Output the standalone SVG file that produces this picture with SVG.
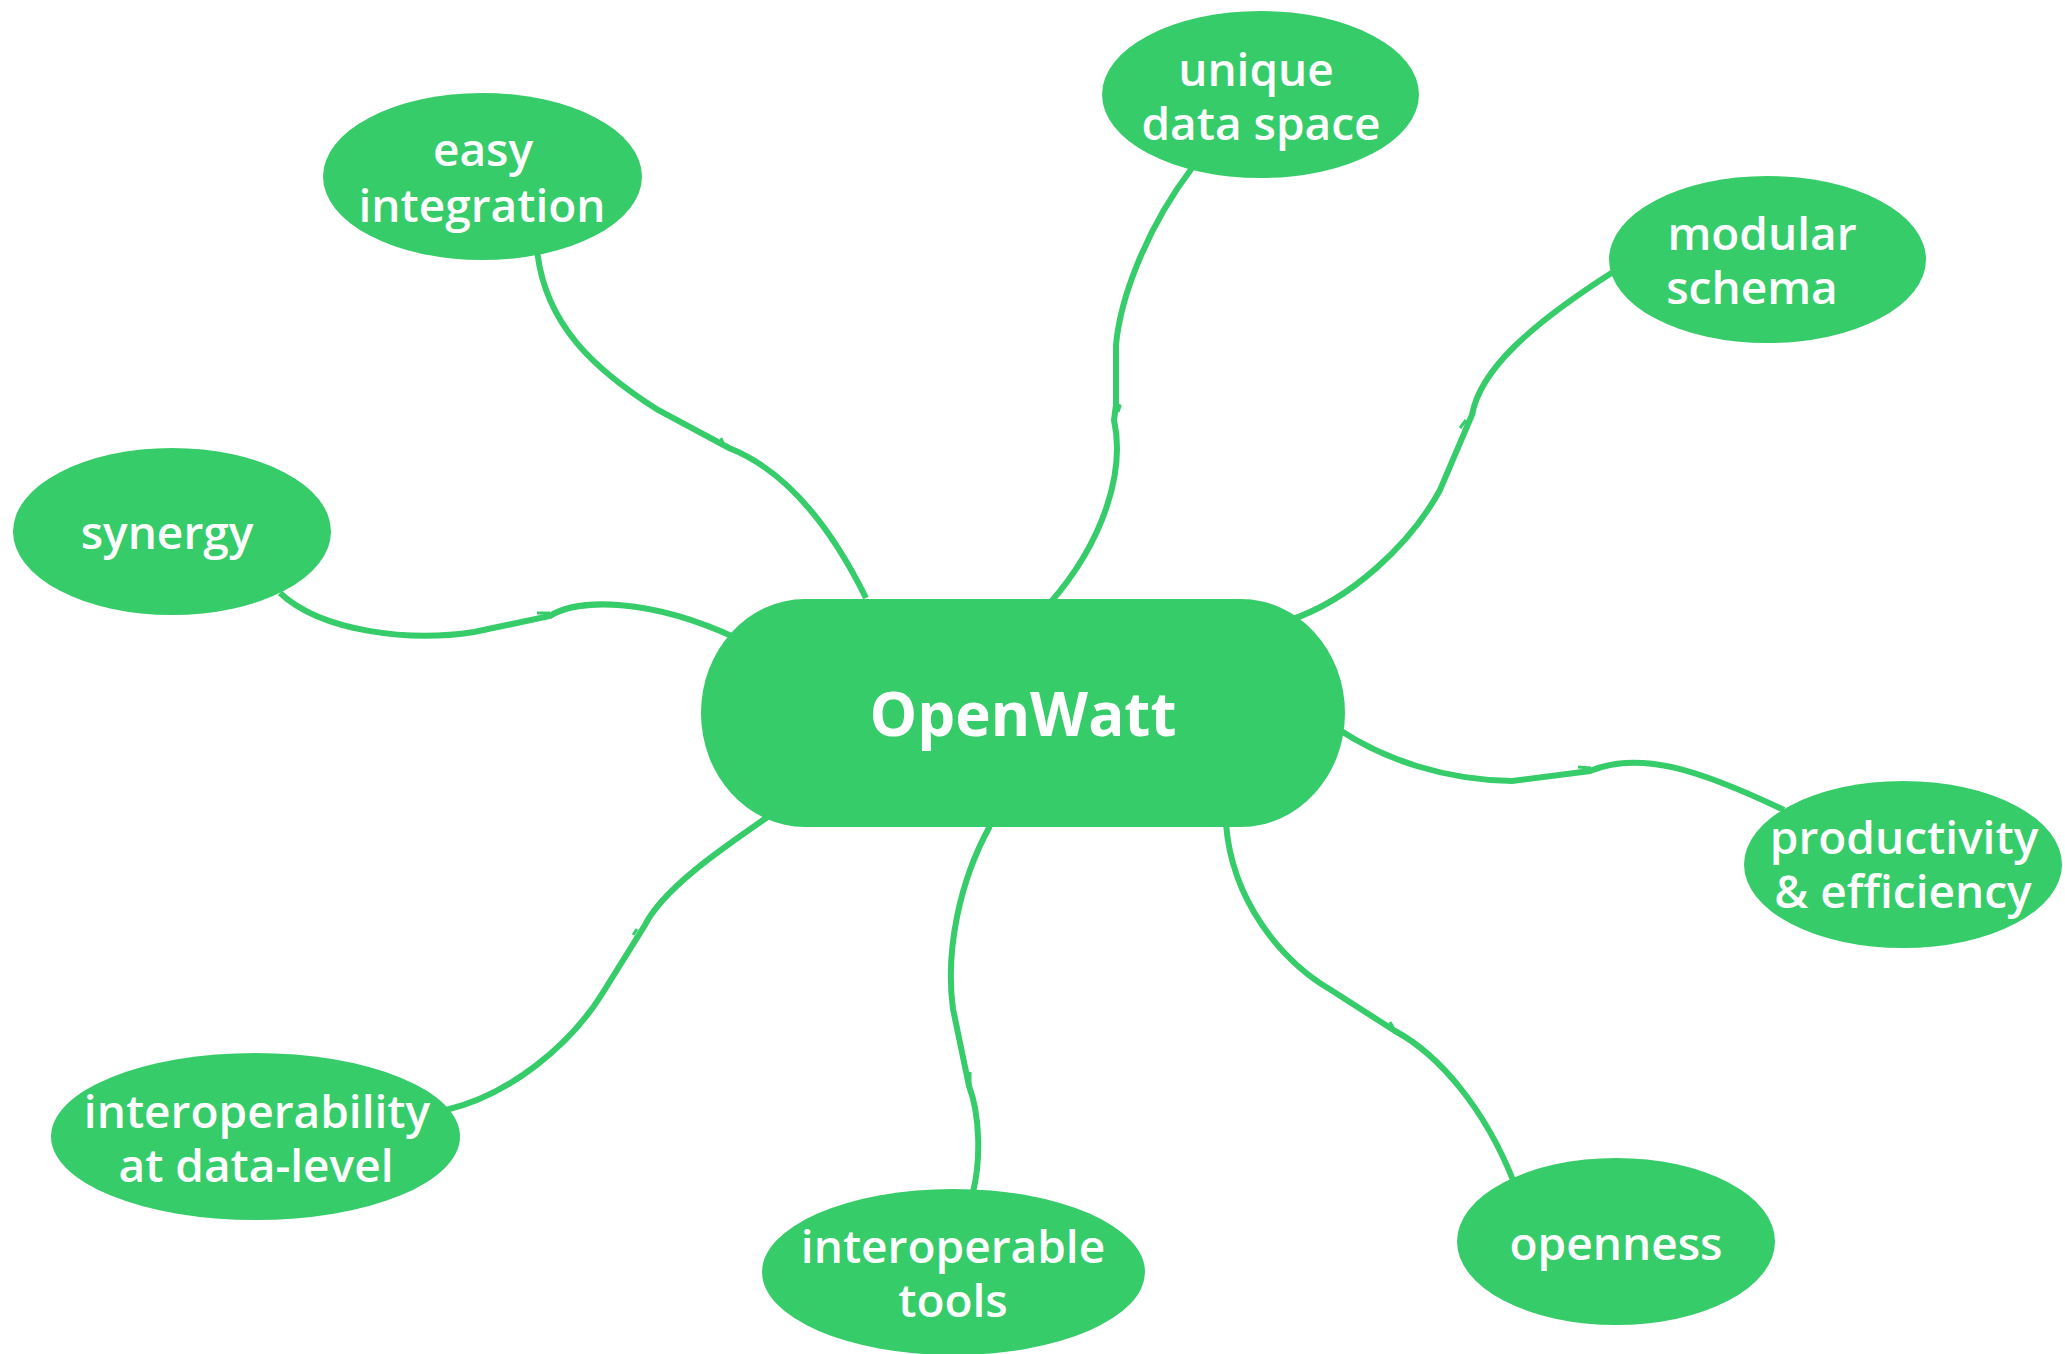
<svg xmlns="http://www.w3.org/2000/svg" width="2065" height="1354" viewBox="0 0 2065 1354">
<style>
.bg{fill:#ffffff}
.node{fill:#37cc6a;stroke:none}
.edge{fill:none;stroke:#37cc6a;stroke-width:6;stroke-linejoin:miter;stroke-linecap:butt}
.tick{fill:none;stroke:#37cc6a;stroke-width:3;stroke-linecap:butt}
.lbl{fill:#ffffff;font-family:"Open Sans","DejaVu Sans","Liberation Sans",sans-serif;font-size:46px;font-weight:600;text-anchor:middle}
.main{fill:#ffffff;font-family:"Open Sans","DejaVu Sans","Liberation Sans",sans-serif;font-size:60px;font-weight:700;text-anchor:middle}
</style>
<rect class="bg" x="0" y="0" width="2065" height="1354"/>
<g id="connectors">
<path class="edge" d="M 537 250 C 545 325, 595 370, 658 410 L 729 448 C 785 470, 830 525, 866 598"/>
<path class="tick" d="M 721 438 L 724 446"/>
<path class="edge" d="M 280 593 C 322 632, 410 642, 474 632 L 550 616 C 578 598, 650 598, 736 638"/>
<path class="tick" d="M 537 613 L 550 613"/>
<path class="edge" d="M 1192 168 C 1145 230, 1120 300, 1116 345 L 1116 405 L 1114 420 C 1125 470, 1105 540, 1050 603"/>
<path class="tick" d="M 1117 404 L 1120 406 L 1118 412"/>
<path class="edge" d="M 1613 272 C 1530 325, 1480 370, 1472 415 L 1440 490 C 1410 545, 1350 600, 1290 620"/>
<path class="tick" d="M 1466 420 L 1460 428"/>
<path class="edge" d="M 1338 729 C 1385 760, 1445 780, 1512 781 L 1590 771 C 1640 750, 1700 770, 1784 810"/>
<path class="tick" d="M 1578 767 L 1591 768"/>
<path class="edge" d="M 1226 824 C 1232 900, 1280 960, 1331 990 L 1395 1031 C 1440 1055, 1485 1110, 1513 1180"/>
<path class="tick" d="M 1390 1022 L 1394 1029"/>
<path class="edge" d="M 990 826 C 960 880, 945 950, 953 1009 L 969 1086 C 980 1115, 981 1160, 973 1192"/>
<path class="tick" d="M 970 1072 L 970 1086"/>
<path class="edge" d="M 769 816 C 735 840, 665 885, 645 925 L 602 994 C 570 1045, 510 1095, 446 1110"/>
<path class="tick" d="M 633 935 L 637 929"/>
</g>
<g id="openwatt">
<rect class="node" x="701" y="599" width="644" height="228" rx="104" ry="114"/>
<text class="main" x="1023" y="736">OpenWatt</text>
</g>
<g id="easy-integration">
<ellipse class="node" cx="482.5" cy="176.5" rx="159.5" ry="83.5"/>
<text class="lbl" x="483" y="166">easy</text>
<text class="lbl" x="482" y="222">integration</text>
</g>
<g id="synergy">
<ellipse class="node" cx="172" cy="531.5" rx="159" ry="83.5"/>
<text class="lbl" x="167" y="549">synergy</text>
</g>
<g id="unique-data-space">
<ellipse class="node" cx="1260.5" cy="94.5" rx="158.5" ry="83.5"/>
<text class="lbl" x="1256" y="86">unique</text>
<text class="lbl" x="1261" y="140">data space</text>
</g>
<g id="modular-schema">
<ellipse class="node" cx="1767.5" cy="259.5" rx="158.5" ry="83.5"/>
<text class="lbl" x="1762" y="250">modular</text>
<text class="lbl" x="1752" y="304">schema</text>
</g>
<g id="productivity-efficiency">
<ellipse class="node" cx="1903" cy="864.5" rx="159" ry="83.5"/>
<text class="lbl" x="1904" y="854">productivity</text>
<text class="lbl" x="1903" y="908">&amp; efficiency</text>
</g>
<g id="openness">
<ellipse class="node" cx="1616" cy="1241.5" rx="159" ry="83.5"/>
<text class="lbl" x="1616" y="1260">openness</text>
</g>
<g id="interoperable-tools">
<ellipse class="node" cx="953.5" cy="1272" rx="191.5" ry="83"/>
<text class="lbl" x="953" y="1263">interoperable</text>
<text class="lbl" x="953" y="1317">tools</text>
</g>
<g id="interoperability-data-level">
<ellipse class="node" cx="255.5" cy="1136.5" rx="204.5" ry="83.5"/>
<text class="lbl" x="257" y="1128">interoperability</text>
<text class="lbl" x="256" y="1182">at data-level</text>
</g>
</svg>
